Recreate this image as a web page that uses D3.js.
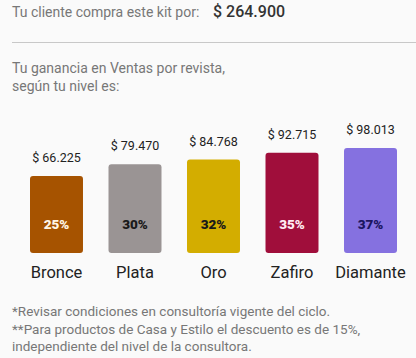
<!DOCTYPE html>
<head>
  <meta charset="utf-8">
  <style>
  body { margin: 0; background: #fafafa; }
  svg { display: block; font-family: "Roboto", sans-serif; }
  .note { fill: #777; font-size: 13.5px; }
  .head { font-size: 14px; }
  </style>
  <script src="https://d3js.org/d3.v7.min.js"></script>
</head>
<body>
  <svg width="416" height="358"></svg>
  <script>

  var levels = ["Bronce", "Plata", "Oro", "Zafiro", "Diamante"];
  var gains = [66225, 79470, 84768, 92715, 98013];
  var pcts = [25, 30, 32, 35, 37];
  var barColors = ["#a65300", "#9a9494", "#d3ad00", "#a00e3b", "#8571e0"];
  var pctColors = ["#fff6e6", "#1a1a1a", "#1a1a1a", "#ffeaf2", "#1c1660"];
  var kitPrice = 264900;

  var svg = d3.select("svg"),
  width = +svg.attr("width");

  var money = function(v) {
    return "$ " + d3.format(",")(v).replace(/,/g, ".");
  };

  // header
  var head = svg.append("text").attr("x", 12).attr("y", 17);
  head.append("tspan").attr("class", "note head").text("Tu cliente compra este kit por:");
  head.append("tspan").attr("x", 213).attr("fill", "#333").style("font-size", "16px").style("font-weight", 500)
    .text(money(kitPrice));

  svg.append("line")
  .attr("x1", 12).attr("x2", width).attr("y1", 42.5).attr("y2", 42.5)
  .attr("stroke", "#c8c8c8").attr("stroke-width", 1);

  svg.append("text").attr("class", "note head").attr("x", 12).attr("y", 73).text("Tu ganancia en Ventas por revista,");
  svg.append("text").attr("class", "note head").attr("x", 12).attr("y", 91).text("según tu nivel es:");

  // bars
  var bottom = 253;
  var x = d3.scaleBand().domain(levels).range([30, 397]).paddingInner(0.325).paddingOuter(0);
  var y = d3.scaleLinear().domain([0, d3.max(gains)]).range([bottom - 19, bottom - 105]);

  var g = svg.append("g").selectAll("g")
  .data(levels)
  .enter().append("g");

  g.append("rect")
  .attr("x", function(d) { return x(d); })
  .attr("y", function(d, i) { return y(gains[i]); })
  .attr("width", x.bandwidth())
  .attr("height", function(d, i) { return bottom - y(gains[i]); })
  .attr("rx", 3)
  .attr("fill", function(d, i) { return barColors[i]; });

  g.append("text")
  .attr("x", function(d) { return x(d) + x.bandwidth() / 2; })
  .attr("y", function(d, i) { return y(gains[i]) - 14; })
  .attr("text-anchor", "middle")
  .attr("fill", "#222")
  .style("font-size", "12.5px")
  .text(function(d, i) { return money(gains[i]); });

  g.append("text")
  .attr("x", function(d) { return x(d) + x.bandwidth() / 2; })
  .attr("y", 229)
  .attr("text-anchor", "middle")
  .attr("fill", function(d, i) { return pctColors[i]; })
  .style("font-size", "13.5px")
  .style("font-weight", 900)
  .text(function(d, i) { return pcts[i] + "%"; });

  g.append("text")
  .attr("x", function(d) { return x(d) + x.bandwidth() / 2; })
  .attr("y", 278)
  .attr("text-anchor", "middle")
  .attr("fill", "#222")
  .style("font-size", "16.5px")
  .text(function(d) { return d; });

  // footnotes
  var notes = ["*Revisar condiciones en consultoría vigente del ciclo.",
    "**Para productos de Casa y Estilo el descuento es de 15%,",
    "independiente del nivel de la consultora."];
  svg.selectAll(".foot").data(notes).enter().append("text")
  .attr("class", "note foot")
  .attr("x", 12)
  .attr("y", function(d, i) { return 316 + i * 17.5; })
  .text(function(d) { return d; });

  </script>
</body>
